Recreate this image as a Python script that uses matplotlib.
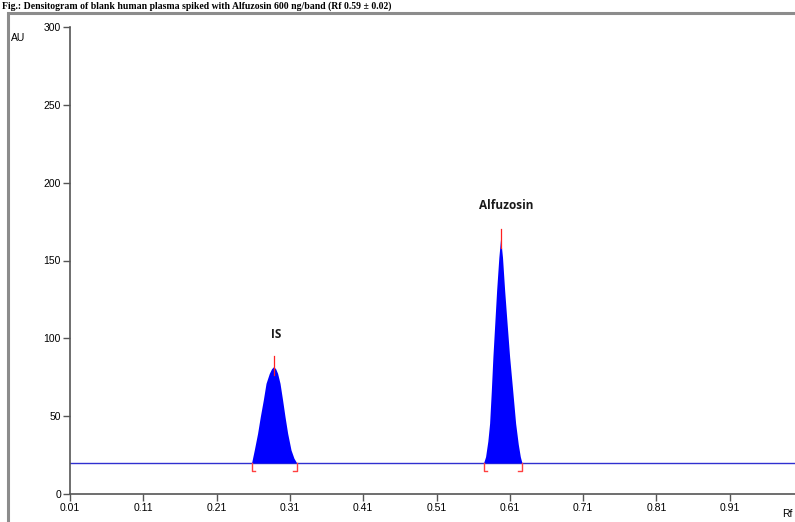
import matplotlib
matplotlib.use("Agg")
import matplotlib.pyplot as plt
from matplotlib.patches import Rectangle

# peak profiles (Rf, AU)
is_rf = [0.2577, 0.2614, 0.2659, 0.2696, 0.2737, 0.2774, 0.2819, 0.2850, 0.2877,
         0.2905, 0.2932, 0.2965, 0.3000, 0.3033, 0.3069, 0.3115, 0.3155, 0.3192]
is_au = [20, 28.3, 39, 49.7, 60.4, 71.1, 77.5, 80.5, 81.8,
         80.5, 77.5, 71.1, 60.4, 49.7, 39, 28.3, 23, 20]

alf_rf = [0.5742, 0.5769, 0.5800, 0.5824, 0.5847, 0.5869, 0.5895, 0.5920,
          0.5950, 0.5974, 0.6000, 0.6029, 0.6062, 0.6097, 0.6140, 0.6179,
          0.6215, 0.6243, 0.6265]
alf_au = [20, 24, 34, 45.4, 66, 88.2, 110, 131,
          152, 164.3, 152, 131, 110, 88.2, 66, 45.4,
          32, 24, 20]

baseline = 20
peak_names = ["IS", "Alfuzosin"]
peak_apex_rf = [0.2877, 0.5974]
peak_marker_top = [88.5, 170]
peak_label_au = [98, 181]
peak_bounds = [(0.2577, 0.3192), (0.5742, 0.6265)]

x_ticks = [0.01, 0.11, 0.21, 0.31, 0.41, 0.51, 0.61, 0.71, 0.81, 0.91]
y_ticks = [0, 50, 100, 150, 200, 250, 300]

fig = plt.figure(figsize=(7.95, 5.22), dpi=100)

# outer frame of the original screenshot
fig.patches.append(Rectangle((8 / 795, -0.1), 1.2, 1 - 13 / 522 + 0.1,
                             transform=fig.transFigure, fill=False,
                             edgecolor="#8c8c8c", linewidth=2.2))

# caption squeezed into the strip above the frame
fig.text(0.002, 1 - 9 / 522,
         "Fig.: Densitogram of blank human plasma spiked with Alfuzosin 600 ng/band (Rf 0.59 \u00b1 0.02)",
         family="Liberation Serif", fontweight="bold", fontsize=7,
         va="baseline", ha="left")

ax = fig.add_axes([70 / 795, 1 - 494 / 522, 1 - 70 / 795, (494 - 27) / 522])
ax.set_xlim(0.01, 0.999)
ax.set_ylim(0, 300)

ax.axhline(baseline, color="#3030d0", linewidth=1.0, zorder=2)
ax.fill_between(is_rf, baseline, is_au, color="#0000ff", linewidth=0, zorder=3)
ax.fill_between(alf_rf, baseline, alf_au, color="#0000ff", linewidth=0, zorder=3)

for name, rf, top, lab, (lo, hi) in zip(peak_names, peak_apex_rf, peak_marker_top,
                                        peak_label_au, peak_bounds):
    ax.plot([rf, rf], [top - 12, top], color="#ff2020", linewidth=0.9, zorder=4)
    ax.plot([lo, lo, lo + 0.005], [baseline, 15, 15], color="#ff4040", linewidth=1.0, zorder=4)
    ax.plot([hi, hi, hi - 0.005], [baseline, 15, 15], color="#ff4040", linewidth=1.0, zorder=4)
    ax.text(rf + (0.004 if name == "IS" else 0.007), lab, name, ha="center", va="bottom",
            family="Open Sans", fontweight="bold", fontsize=8.5, color="#1a1a1a")

for s in ["top", "right"]:
    ax.spines[s].set_visible(False)
for s in ["left", "bottom"]:
    ax.spines[s].set_color("#555555")
    ax.spines[s].set_linewidth(1.2)

ax.set_xticks(x_ticks)
ax.set_xticklabels([f"{v:.2f}" for v in x_ticks])
ax.set_yticks(y_ticks)
ax.tick_params(axis="both", direction="out", length=5, width=1, color="#555555",
               labelsize=7.5, pad=1.5)
for lbl in ax.get_xticklabels() + ax.get_yticklabels():
    lbl.set_family("Liberation Sans")

fig.text(11 / 795, 1 - 38 / 522, "AU", family="Liberation Sans", fontsize=7.5,
         va="center", ha="left")
fig.text(782 / 795, 1 - 514 / 522, "Rf", family="Liberation Sans", fontsize=7.5,
         va="center", ha="left")

plt.savefig("out.png", dpi=100)
